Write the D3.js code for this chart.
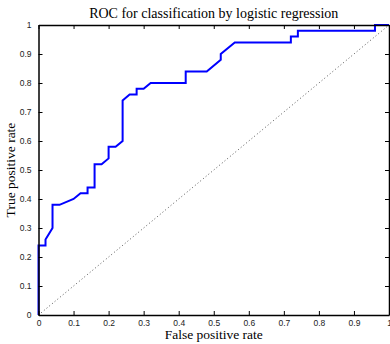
<!DOCTYPE html>
<html>
<head>
<meta charset="utf-8">
<script src="https://cdn.jsdelivr.net/npm/d3@7"></script>
<style>
  body { margin: 0; background: #fff; }
  svg { display: block; }
</style>
</head>
<body>
<svg id="chart" width="390" height="344"></svg>
<script>
// ROC curve points
const fpr = [0, 0, 0.02, 0.02, 0.04, 0.04, 0.06, 0.10, 0.12, 0.14, 0.14, 0.16, 0.16, 0.18, 0.20, 0.20, 0.22, 0.24, 0.24, 0.26, 0.28, 0.28, 0.30, 0.32, 0.42, 0.42, 0.48, 0.52, 0.52, 0.56, 0.72, 0.72, 0.74, 0.74, 0.96, 0.96, 1];
const tpr = [0, 0.24, 0.24, 0.26, 0.30, 0.38, 0.38, 0.40, 0.42, 0.42, 0.44, 0.44, 0.52, 0.52, 0.54, 0.58, 0.58, 0.60, 0.74, 0.76, 0.76, 0.78, 0.78, 0.80, 0.80, 0.84, 0.84, 0.88, 0.90, 0.94, 0.94, 0.96, 0.96, 0.98, 0.98, 1, 1];
const chance = [0, 1];
const ticks = [0, 0.1, 0.2, 0.3, 0.4, 0.5, 0.6, 0.7, 0.8, 0.9, 1];
const tickLabels = ["0", "0.1", "0.2", "0.3", "0.4", "0.5", "0.6", "0.7", "0.8", "0.9", "1"];

const title = "ROC for classification by logistic regression";
const xTitle = "False positive rate";
const yTitle = "True positive rate";

const margin = {top: 25, right: 1, bottom: 29, left: 38.5};
const width = 390, height = 344;

const svg = d3.select("#chart");

const xScale = d3.scaleLinear().domain([0, 1]).range([margin.left, width - margin.right]);
const yScale = d3.scaleLinear().domain([0, 1]).range([height - margin.bottom, margin.top]);

const fmt = (d) => tickLabels[ticks.indexOf(d)];

// curve and diagonal
const line = d3.line().x(d => xScale(d[0])).y(d => yScale(d[1]));

svg.append("path")
  .attr("d", line(chance.map(c => [c, c])))
  .attr("fill", "none")
  .attr("stroke", "#555")
  .attr("stroke-width", 1)
  .attr("stroke-dasharray", "1,2.5");

svg.append("path")
  .attr("d", line(fpr.map((f, i) => [f, tpr[i]])))
  .attr("fill", "none")
  .attr("stroke", "#0000ff")
  .attr("stroke-width", 2)
  .attr("stroke-linejoin", "miter");

// axes, all four sides with inward ticks
const tickFont = "Liberation Sans, Arial, sans-serif";

const axBottom = svg.append("g")
  .attr("transform", `translate(0,${yScale(0)})`)
  .call(d3.axisBottom(xScale).tickValues(ticks).tickFormat(fmt).tickSizeInner(-4).tickSizeOuter(0).tickPadding(5));
const axTop = svg.append("g")
  .attr("transform", `translate(0,${yScale(1)})`)
  .call(d3.axisTop(xScale).tickValues(ticks).tickFormat("").tickSizeInner(-4).tickSizeOuter(0));
const axLeft = svg.append("g")
  .attr("transform", `translate(${xScale(0)},0)`)
  .call(d3.axisLeft(yScale).tickValues(ticks).tickFormat(fmt).tickSizeInner(-4).tickSizeOuter(0).tickPadding(7));
const axRight = svg.append("g")
  .attr("transform", `translate(${xScale(1)},0)`)
  .call(d3.axisRight(yScale).tickValues(ticks).tickFormat("").tickSizeInner(-4).tickSizeOuter(0));

[axBottom, axTop, axLeft, axRight].forEach(g => {
  g.select(".domain").attr("stroke", "#000").attr("stroke-width", 1.5);
  g.selectAll(".tick line").attr("stroke", "#000").attr("stroke-width", 1);
  g.selectAll("text").attr("font-family", tickFont).attr("font-size", 8.5).attr("fill", "#222");
});

// titles
const serif = "Liberation Serif, Times New Roman, serif";
svg.append("text")
  .attr("x", (xScale(0) + xScale(1)) / 2).attr("y", 18)
  .attr("text-anchor", "middle")
  .attr("font-family", serif).attr("font-size", 14)
  .text(title);

svg.append("text")
  .attr("x", (xScale(0) + xScale(1)) / 2).attr("y", 339)
  .attr("text-anchor", "middle")
  .attr("font-family", serif).attr("font-size", 13.5)
  .text(xTitle);

svg.append("text")
  .attr("transform", `translate(15,${(yScale(0) + yScale(1)) / 2}) rotate(-90)`)
  .attr("text-anchor", "middle")
  .attr("font-family", serif).attr("font-size", 13.5)
  .text(yTitle);
</script>
</body>
</html>
